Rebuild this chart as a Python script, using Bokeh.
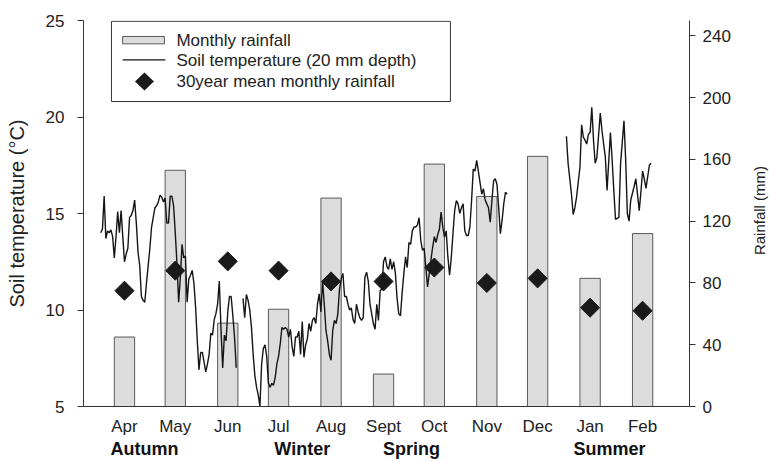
import math
from datetime import date

from bokeh.plotting import figure
from bokeh.models import (Range1d, LinearAxis, FixedTicker, Label, BoxAnnotation,
                          Arrow, PolyAnnotation)
from bokeh.embed import file_html
from bokeh.resources import INLINE

# ---------------------------------------------------------------- data
months = ["Apr", "May", "Jun", "Jul", "Aug", "Sept", "Oct", "Nov", "Dec", "Jan", "Feb"]
month_mid = [date(2008, 4, 15), date(2008, 5, 15), date(2008, 6, 15), date(2008, 7, 15),
             date(2008, 8, 15), date(2008, 9, 15), date(2008, 10, 15), date(2008, 11, 15),
             date(2008, 12, 15), date(2009, 1, 15), date(2009, 2, 15)]
monthly_rain = [45, 153, 54, 63, 135, 21, 157, 136, 162, 83, 112]      # mm
mean_rain_30yr = [75, 88, 94, 88, 81, 81, 90, 80, 83, 64, 62]          # mm

# daily soil temperature at 20 mm depth (day 0 = 1 April); NaN marks missing records
soil_day = [
    0, 1, 2, 3, 4, 5, 6, 7, 8, 9, 10, 11, 12, 13, 14, 15, 16, 17, 18, 19,
    20, 21, 22, 23, 24, 25, 26, 27, 28, 29, 30, 31, 32, 33, 34, 35, 36, 37, 38, 39,
    40, 41, 42, 43, 44, 45, 46, 47, 48, 49, 50, 51, 52, 53, 54, 55, 56, 57, 58, 59,
    60, 61, 62, 63, 64, 65, 66, 67, 68, 69, 70, 71, 72, 73, 74, 75, 76, 77, 78, 79,
    80, 82, 84, 85, 86, 87, 88, 89, 90, 91, 92, 93, 94, 95, 96, 97, 98, 99,
    100, 101, 102, 103, 104, 105, 106, 107, 108, 109, 110, 111, 112, 113, 114, 115, 116, 117, 118, 119,
    120, 121, 122, 123, 124, 125, 126, 127, 128, 129, 130, 131, 132, 133, 134, 135, 136, 137, 138, 139,
    140, 141, 142, 143, 144, 145, 146, 147, 148, 149, 150, 151, 152, 153, 154, 155, 156, 157, 158, 159,
    160, 161, 162, 163, 164, 165, 166, 167, 168, 169, 170, 171, 172, 173, 174, 175, 176, 177, 178, 179,
    180, 181, 182, 183, 184, 185, 186, 187, 188, 189, 190, 191, 192, 193, 194, 195, 196, 197, 198, 199,
    200, 201, 202, 203, 204, 205, 206, 207, 208, 209, 210, 211, 212, 213, 214, 215, 216, 217, 218, 219,
    220, 221, 222, 223, 224, 225, 226, 227, 228, 229, 230, 231, 232, 233, 234, 235, 236, 237, 238, 239,
    240, 258,
    275, 276, 278, 279, 280, 281, 283, 284, 285, 286, 287, 288, 289, 290, 291, 292, 293, 295, 296, 297,
    298, 299, 301, 302, 303, 304, 306, 307, 309, 310, 311, 312, 313, 315, 316, 317, 318, 319, 320, 321,
    322, 323, 324, 325,
]
nan = float("nan")
soil_temp = [
    14.0, 14.2, 15.9, 13.7, 14.1, 14.0, 14.15, 13.8, 12.7, 13.8, 15.1, 14.0, 15.15, 13.8, 12.5, 12.9, 13.2, 14.8, 14.9, 15.15,
    15.7, 14.5, 13.0, 12.3, 10.7, 10.5, 10.4, 11.4, 12.3, 13.2, 14.3, 14.8, 15.3, 15.4, 15.6, 15.95, 15.85, 15.6, 15.8, 14.5,
    14.5, 15.9, 15.9, 15.4, 14.0, 12.4, 10.4, 11.7, 13.4, 12.7, 12.8, 10.4, 11.6, 11.8, 12.05, 11.4, 10.15, 8.4, 6.9, 7.8,
    7.8, 7.3, 6.8, 7.2, 7.7, 8.8, 8.7, 9.5, 9.8, 10.3, 11.5, 9.0, 7.0, 8.7, 8.4, 9.9, 10.7, 10.7, 9.7, 8.6,
    7.0, nan, 10.6, 9.6, 10.8, 10.5, 10.0, 9.1, 7.7, 6.6, 6.0, 5.6, 5.0, 7.2, 8.0, 8.2, 7.6, 6.2,
    6.0, 6.2, 6.1, 6.5, 7.2, 7.6, 8.25, 9.1, 9.0, 9.1, 9.0, 8.6, 9.0, 8.1, 7.6, 8.6, 8.6, 8.9, 7.7, 9.4,
    7.55, 8.2, 8.5, 9.3, 8.9, 9.46, 9.6, 9.3, 10.3, 10.84, 9.9, 11.5, 10.3, 8.94, 8.4, 7.7, 7.4, 8.94, 9.46, 9.3,
    9.8, 11.1, 11.6, 11.9, 10.7, 10.7, 10.3, 10.0, 10.1, 9.5, 9.3, 10.3, 9.9, 9.6, 9.46, 9.6, 11.7, 11.96, 11.5, 10.3,
    9.8, 9.3, 9.0, 10.3, 9.46, 11.0, 11.1, 12.5, 12.75, 12.25, 12.1, 12.65, 12.1, 12.5, 11.9, 10.6, 9.8, 9.7, 10.9, 11.9,
    12.75, 12.2, 13.5, 13.4, 14.1, 14.3, 14.3, 14.4, 14.78, 13.6, 13.1, 13.2, 12.2, 11.2, 11.9, 12.6, 13.25, 13.8, 13.5, 13.9,
    14.2, 15.07, 14.3, 13.77, 14.1, 12.75, 11.8, 12.7, 13.95, 15.15, 15.67, 15.5, 15.0, 15.3, 15.5, 14.1, 13.86, 13.86, 14.3, 15.67,
    17.3, 17.2, 17.75, 17.2, 16.6, 16.0, 16.28, 15.7, 15.5, 15.3, 14.55, 15.67, 16.7, 16.8, 16.5, 15.33, 13.95, 14.64, 15.5, 16.1,
    16.0, nan,
    19.0, 17.6, 16.0, 14.95, 15.3, 15.85, 17.4, 19.6, 18.95, 18.8, 18.6, 19.1, 19.2, 20.5, 18.8, 17.6, 17.9, 20.2, 19.3, 18.6,
    17.9, 16.2, 19.2, 17.8, 16.2, 14.7, 14.8, 17.6, 19.8, 17.8, 15.0, 14.6, 15.7, 16.4, 16.8, 16.0, 15.15, 16.1, 17.2, 16.8,
    16.3, 16.9, 17.5, 17.6,
]

temp_ticks = [5, 10, 15, 20, 25]
rain_ticks = [0, 40, 80, 120, 160, 200, 240]
seasons = ["Autumn", "Winter", "Spring", "Summer"]

# ---------------------------------------------------------------- helpers
start = date(2008, 4, 1)
bar_day = [(d - start).days for d in month_mid]

FONT = "Liberation Sans"
TXT = "#222222"

p = figure(width=770, height=461, output_backend="svg", toolbar_location=None,
           x_range=Range1d(-10.2, 347.7), y_range=Range1d(5, 25),
           min_border_left=83, min_border_right=81, min_border_top=20, min_border_bottom=55)
p.extra_y_ranges = {"rain": Range1d(0, 250)}
p.outline_line_color = None
p.xgrid.visible = False
p.ygrid.visible = False
p.background_fill_color = "white"
p.border_fill_color = "white"

# rainfall bars, soil temperature trace, long-term mean markers
p.vbar(x=bar_day, top=monthly_rain, bottom=0, width=12, y_range_name="rain",
       fill_color="#dcdcdc", line_color="#5a5a5a", line_width=1)
p.line(soil_day, soil_temp, line_color="#151515", line_width=1.4)
p.scatter(bar_day, mean_rain_30yr, marker="square", angle=math.pi / 4, size=13.5,
          fill_color="#1a1a1a", line_color="#1a1a1a", y_range_name="rain")

# axes
xa = p.xaxis[0]
xa.ticker = FixedTicker(ticks=bar_day)
xa.major_label_overrides = {d: m for d, m in zip(bar_day, months)}
xa.major_tick_line_color = None
xa.minor_tick_line_color = None
xa.major_tick_in = 0
xa.major_tick_out = 0
xa.major_label_standoff = 10
xa.axis_line_color = "#333333"
xa.major_label_text_font = FONT
xa.major_label_text_font_size = "17px"
xa.major_label_text_color = TXT

# season names as a second, unlined axis under the months
season_x = [25.8, 119.0, 183.5, 300.5]
sa = LinearAxis(ticker=FixedTicker(ticks=season_x),
                major_label_overrides={x: s for x, s in zip(season_x, seasons)})
sa.axis_line_color = None
sa.major_tick_line_color = None
sa.minor_tick_line_color = None
sa.major_tick_in = 0
sa.major_tick_out = 0
sa.major_label_standoff = 0
sa.major_label_text_font = FONT
sa.major_label_text_font_size = "18px"
sa.major_label_text_font_style = "bold"
sa.major_label_text_color = "#111111"
p.add_layout(sa, "below")

ya = p.yaxis[0]
ya.ticker = FixedTicker(ticks=temp_ticks)
ya.minor_tick_line_color = None
ya.major_tick_in = 0
ya.major_tick_out = 6
ya.major_tick_line_color = "#333333"
ya.axis_line_color = "#333333"
ya.major_label_standoff = 13
ya.major_label_text_font = FONT
ya.major_label_text_font_size = "17px"
ya.major_label_text_color = TXT
ya.axis_label = "Soil temperature (°C)"
ya.axis_label_standoff = 15
ya.axis_label_text_font = FONT
ya.axis_label_text_font_size = "20px"
ya.axis_label_text_font_style = "normal"
ya.axis_label_text_color = TXT

ra = LinearAxis(y_range_name="rain", ticker=FixedTicker(ticks=rain_ticks))
ra.minor_tick_line_color = None
ra.major_tick_in = 0
ra.major_tick_out = 6
ra.major_tick_line_color = "#333333"
ra.axis_line_color = "#333333"
ra.major_label_standoff = 7
ra.major_label_text_font = FONT
ra.major_label_text_font_size = "17px"
ra.major_label_text_color = TXT
p.add_layout(ra, "right")

# rainfall title in the right-hand margin, reading upwards
p.add_layout(Label(text="Rainfall (mm)", x=26, y=196, x_units="screen", y_units="screen",
                   angle=math.pi / 2, text_align="center", text_baseline="middle",
                   text_font=FONT, text_font_size="15px", text_color=TXT), "right")

# key box
p.add_layout(BoxAnnotation(left=6.3, right=206.5, top=24.96, bottom=20.8,
                           fill_color="white", fill_alpha=1.0,
                           line_color="#333333", line_width=1, line_alpha=1.0))
p.add_layout(BoxAnnotation(left=12.9, right=37.6, top=24.17, bottom=23.79,
                           fill_color="#dcdcdc", fill_alpha=1.0,
                           line_color="#5a5a5a", line_width=1, line_alpha=1.0))
p.add_layout(Arrow(end=None, x_start=12.9, y_start=22.96, x_end=38.2, y_end=22.96,
                   line_color="#151515", line_width=1.4))
dx, dy, cx, cy = 5.6, 0.47, 25.8, 21.84
p.add_layout(PolyAnnotation(xs=[cx - dx, cx, cx + dx, cx], ys=[cy, cy + dy, cy, cy - dy],
                            fill_color="#1a1a1a", fill_alpha=1.0, line_color=None))
key_text = ["Monthly rainfall", "Soil temperature (20 mm depth)", "30year mean monthly rainfall"]
key_y = [23.96, 22.93, 21.84]
for t, ky in zip(key_text, key_y):
    p.add_layout(Label(x=44.7, y=ky, text=t, text_align="left", text_baseline="middle",
                       text_font=FONT, text_font_size="17px", text_color=TXT))

open("out.html", "w").write(file_html(p, INLINE))
